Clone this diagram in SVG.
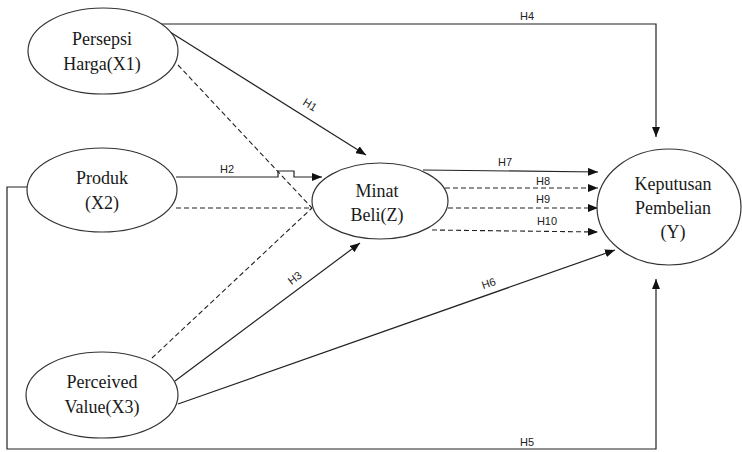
<svg xmlns="http://www.w3.org/2000/svg" width="742" height="452" viewBox="0 0 742 452">
<defs>
<marker id="arr" markerWidth="10" markerHeight="8" refX="10" refY="4" orient="auto" markerUnits="userSpaceOnUse">
<path d="M0,0 L10,4 L0,8 Z" fill="#111"/>
</marker>
<style>
.node ellipse{fill:#fff;stroke:#333;stroke-width:1.2}
.nt{font-family:'Liberation Serif','DejaVu Serif','Times New Roman',serif;font-size:18px;fill:#1a1a1a;text-anchor:middle}
.c{fill:none;stroke:#222;stroke-width:1.2}
.d{fill:none;stroke:#222;stroke-width:1.1;stroke-dasharray:5 3}
.a{marker-end:url(#arr)}
.lbl{font-family:'Liberation Sans',Arial,sans-serif;font-size:11px;fill:#222;text-anchor:middle}
</style>
</defs>
<rect width="742" height="452" fill="#fff"/>
<g id="connectors">
<polyline class="c a" points="161,24 656,24 656,137"/>
<text class="lbl" x="527" y="20">H4</text>
<line class="c a" x1="170" y1="32" x2="366" y2="155"/>
<text class="lbl" transform="translate(308,108) rotate(32)">H1</text>
<line class="d" x1="178" y1="65" x2="312" y2="208"/>
<polyline class="c a" points="176,177 278,177 278,171 294,171 294,177 322,177"/>
<text class="lbl" x="227" y="173">H2</text>
<line class="d" x1="176" y1="208" x2="312" y2="208"/>
<line class="d" x1="152" y1="358" x2="312" y2="208"/>
<line class="c a" x1="175" y1="381" x2="360" y2="243"/>
<text class="lbl" transform="translate(297,281) rotate(-37)">H3</text>
<line class="c a" x1="178" y1="404" x2="615" y2="250"/>
<text class="lbl" transform="translate(490,287) rotate(-19.4)">H6</text>
<polyline class="c a" points="27,187 7,187 7,449 656,449 656,279"/>
<text class="lbl" x="527" y="446">H5</text>
<line class="c a" x1="423" y1="170" x2="598" y2="172"/>
<text class="lbl" x="505" y="166">H7</text>
<line class="d a" x1="445" y1="188" x2="598" y2="188"/>
<text class="lbl" x="543" y="185">H8</text>
<line class="d a" x1="448" y1="208" x2="598" y2="208"/>
<text class="lbl" x="543" y="203">H9</text>
<line class="d a" x1="432" y1="230" x2="598" y2="232"/>
<text class="lbl" x="547" y="225">H10</text>
</g>
<g id="x1" class="node">
<ellipse cx="103" cy="51" rx="75" ry="43"/>
<text class="nt" x="102" y="45">Persepsi</text>
<text class="nt" x="102" y="70">Harga(X1)</text>
</g>
<g id="x2" class="node">
<ellipse cx="102" cy="190" rx="75" ry="42"/>
<text class="nt" x="102" y="184">Produk</text>
<text class="nt" x="102" y="209">(X2)</text>
</g>
<g id="x3" class="node">
<ellipse cx="102" cy="395" rx="76" ry="43"/>
<text class="nt" x="102" y="388">Perceived</text>
<text class="nt" x="102" y="413">Value(X3)</text>
</g>
<g id="z" class="node">
<ellipse cx="380" cy="201" rx="68" ry="38"/>
<text class="nt" x="377" y="197">Minat</text>
<text class="nt" x="377" y="221">Beli(Z)</text>
</g>
<g id="y" class="node">
<ellipse cx="669" cy="207" rx="72" ry="58"/>
<text class="nt" x="673" y="190">Keputusan</text>
<text class="nt" x="673" y="214">Pembelian</text>
<text class="nt" x="673" y="238">(Y)</text>
</g>
</svg>
